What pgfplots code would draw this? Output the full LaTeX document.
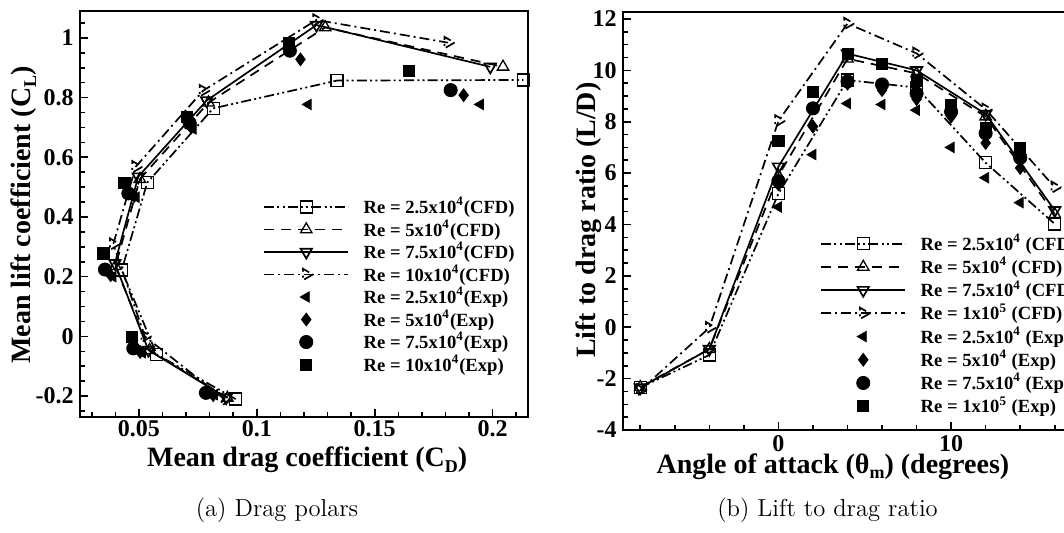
\documentclass[border=0pt]{standalone}
\usepackage{fontspec}
\newfontfamily\tnr{Liberation Serif}
\usepackage{pgfplots}
\pgfplotsset{compat=1.18}
\pgfplotsset{
 myaxis/.style={
  scale only axis, anchor=south west,
  axis line style={line width=1pt},
  tick align=inside, tick pos=left,
  major tick length=4pt, minor tick length=2.5pt,
  every tick/.style={black, line width=0.8pt},
  tick label style={font=\fontsize{12}{12}\selectfont\tnr\bfseries},
  xticklabel style={anchor=north, inner sep=0pt, yshift=-1.5pt},
  yticklabel style={anchor=east, inner sep=0pt, xshift=-3pt},
  label style={font=\fontsize{14}{14}\selectfont\tnr\bfseries},
  legend style={font=\fontsize{9.3}{9.3}\selectfont\tnr\bfseries, draw=none, fill=none,
     inner sep=0pt, column sep=6.3pt, row sep=0pt, nodes={inner sep=1pt}, anchor=north west},
  legend cell align=left,
  legend image code/.code={\draw[mark repeat=2,mark phase=2,##1] plot coordinates {(0pt,0pt)(21pt,0pt)(42pt,0pt)};},
 },
 cfd/.style={black, line width=0.85pt, mark size=3pt, mark options={solid, line width=0.65pt, fill=none}},
 dashddot/.style={dash pattern=on 5pt off 1.6pt on 1pt off 1.6pt on 1pt off 1.6pt},
 dashd/.style={dash pattern=on 5pt off 2pt on 1pt off 2pt},
 dashl/.style={dash pattern=on 5pt off 3.5pt},
 expm/.style={only marks, black, legend image code/.code={\draw[mark repeat=2,mark phase=2,##1] plot coordinates {(0pt,0pt)(21pt,0pt)(42pt,0pt)};}},
}
\newcommand{\sub}[1]{\raisebox{-0.4ex}{\fontsize{9}{9}\selectfont #1}}
\begin{document}
\begin{tikzpicture}
\useasboundingbox (0pt,0pt) rectangle (532pt,266pt);
% ---------------- left: drag polars
\begin{axis}[myaxis, at={(40pt,57.5pt)}, width=224pt, height=203pt,
  xmin=0.025, xmax=0.215, ymin=-0.27, ymax=1.09,
  xtick={0.05,0.1,0.15,0.2}, xticklabels={0.05,0.1,0.15,0.2},
  minor xtick={0.03,0.04,0.06,0.07,0.08,0.09,0.11,0.12,0.13,0.14,0.16,0.17,0.18,0.19,0.21},
  ytick={-0.2,0,0.2,0.4,0.6,0.8,1}, yticklabels={-0.2,0,0.2,0.4,0.6,0.8,1},
  minor ytick={-0.25,-0.15,-0.1,-0.05,0.05,0.1,0.15,0.25,0.3,0.35,0.45,0.5,0.55,0.65,0.7,0.75,0.85,0.9,0.95,1.05},
  xlabel={Mean drag coefficient (C\sub{D})},
  ylabel={Mean lift coefficient (C\sub{L})},
  xlabel style={at={(axis description cs:0.507,-0.123)}, anchor=base},
  ylabel style={at={(axis description cs:-0.125,0.4975)}, anchor=center},
  legend style={at={(0.4085,0.547)}, row sep=-0.35pt},
]
\addplot[cfd, dashddot, mark=square] coordinates {(0.0910,-0.210)(0.0575,-0.060)(0.0427,0.222)(0.0535,0.515)(0.0815,0.764)(0.1340,0.857)(0.2130,0.859)};
\addlegendentry{Re = 2.5x10\textsuperscript{4}(CFD)}
\addplot[cfd, dashl, mark=triangle, mark size=3.3pt] coordinates {(0.0875,-0.206)(0.0545,-0.046)(0.0400,0.235)(0.0504,0.527)(0.0795,0.783)(0.1290,1.035)(0.2044,0.903)};
\addlegendentry{Re = 5x10\textsuperscript{4}(CFD)}
\addplot[cfd, solid, mark=triangle, mark size=3.3pt, mark options={rotate=180}] coordinates {(0.0870,-0.205)(0.0540,-0.046)(0.0398,0.245)(0.0497,0.535)(0.0787,0.790)(0.1253,1.043)(0.1990,0.903)};
\addlegendentry{Re = 7.5x10\textsuperscript{4}(CFD)}
\addplot[cfd, dashd, mark=triangle, mark size=3.3pt, mark options={rotate=-90}] coordinates {(0.0865,-0.212)(0.0525,0.000)(0.0391,0.309)(0.0486,0.568)(0.0772,0.823)(0.1253,1.060)(0.1810,0.984)};
\addlegendentry{Re = 10x10\textsuperscript{4}(CFD)}
\addplot[expm, mark=triangle*, mark size=3pt, mark options={rotate=90}] coordinates {(0.0820,-0.195)(0.0515,-0.055)(0.0390,0.200)(0.0488,0.466)(0.0730,0.695)(0.1218,0.777)(0.1948,0.777)};
\addlegendentry{Re = 2.5x10\textsuperscript{4}(Exp)}
\addplot[expm, mark=diamond*, mark size=3.2pt] coordinates {(0.0815,-0.197)(0.0505,-0.052)(0.0380,0.205)(0.0480,0.470)(0.0722,0.700)(0.1185,0.928)(0.1877,0.808)};
\addlegendentry{Re = 5x10\textsuperscript{4}(Exp)}
\addplot[expm, mark=*, mark size=3.3pt] coordinates {(0.0784,-0.189)(0.0476,-0.040)(0.0356,0.224)(0.0455,0.479)(0.0715,0.715)(0.1140,0.957)(0.1822,0.825)};
\addlegendentry{Re = 7.5x10\textsuperscript{4}(Exp)}
\addplot[expm, mark=square*, mark size=2.8pt] coordinates {(0.0469,-0.001)(0.0349,0.278)(0.0438,0.515)(0.0702,0.736)(0.1137,0.982)(0.1645,0.890)};
\addlegendentry{Re = 10x10\textsuperscript{4}(Exp)}
\end{axis}
% ---------------- right: lift to drag ratio
\begin{axis}[myaxis, at={(311.5pt,51pt)}, width=221.9pt, height=209pt,
  xmin=-9, xmax=16.7, ymin=-4, ymax=12.27,
  xtick={0,10}, xticklabels={0,10},
  minor xtick={-8,-6,-4,-2,2,4,6,8,12,14,16},
  xticklabel style={yshift=-1.2pt},
  ytick={-4,-2,0,2,4,6,8,10,12}, yticklabels={-4,-2,0,2,4,6,8,10,12},
  minor ytick={-3.5,-3,-2.5,-1.5,-1,-0.5,0.5,1,1.5,2.5,3,3.5,4.5,5,5.5,6.5,7,7.5,8.5,9,9.5,10.5,11,11.5},
  xlabel={Angle of attack (θ\sub{m}) (degrees)},
  ylabel={Lift to drag ratio (L/D)},
  xlabel style={at={(axis description cs:0.473,-0.104)}, anchor=base},
  ylabel style={at={(axis description cs:-0.0766,0.502)}, anchor=center},
  legend style={at={(0.4439,0.4744)}, row sep=0pt},
]
\addplot[cfd, dashddot, mark=square] coordinates {(-8,-2.35)(-4,-1.08)(0,5.20)(4,9.62)(8,9.33)(12,6.40)(16,4.02)};
\addlegendentry{Re = 2.5x10\textsuperscript{4} (CFD)}
\addplot[cfd, dashl, mark=triangle, mark size=3.3pt] coordinates {(-8,-2.33)(-4,-0.85)(0,5.90)(4,10.45)(8,9.88)(12,8.20)(16,4.40)};
\addlegendentry{Re = 5x10\textsuperscript{4} (CFD)}
\addplot[cfd, solid, mark=triangle, mark size=3.3pt, mark options={rotate=180}] coordinates {(-8,-2.35)(-4,-0.85)(0,6.25)(4,10.65)(8,10.00)(12,8.30)(16,4.55)};
\addlegendentry{Re = 7.5x10\textsuperscript{4} (CFD)}
\addplot[cfd, dashd, mark=triangle, mark size=3.3pt, mark options={rotate=-90}] coordinates {(-8,-2.45)(-4,-0.02)(0,8.03)(4,11.82)(8,10.66)(12,8.48)(16,5.45)};
\addlegendentry{Re = 1x10\textsuperscript{5} (CFD)}
\addplot[expm, mark=triangle*, mark size=3pt, mark options={rotate=90}] coordinates {(0,4.68)(2,6.72)(4,8.71)(6,8.67)(8,8.45)(10,7.00)(12,5.82)(14,4.85)};
\addlegendentry{Re = 2.5x10\textsuperscript{4} (Exp)}
\addplot[expm, mark=diamond*, mark size=3.2pt] coordinates {(0,5.56)(2,7.81)(4,9.48)(6,9.23)(8,8.88)(10,8.20)(12,7.17)(14,6.20)};
\addlegendentry{Re = 5x10\textsuperscript{4} (Exp)}
\addplot[expm, mark=*, mark size=3.3pt] coordinates {(0,5.69)(2,8.52)(4,9.57)(6,9.45)(8,9.10)(10,8.39)(12,7.55)(14,6.59)};
\addlegendentry{Re = 7.5x10\textsuperscript{4} (Exp)}
\addplot[expm, mark=square*, mark size=2.8pt] coordinates {(0,7.26)(2,9.16)(4,10.64)(6,10.26)(8,9.61)(10,8.65)(12,7.75)(14,6.97)};
\addlegendentry{Re = 1x10\textsuperscript{5} (Exp)}
\end{axis}
\node[font=\fontsize{12.3}{14}\selectfont] at (138.5pt,11pt) {(a) Drag polars};
\node[font=\fontsize{12.3}{14}\selectfont] at (413.75pt,11pt) {(b) Lift to drag ratio};
\end{tikzpicture}
\end{document}
